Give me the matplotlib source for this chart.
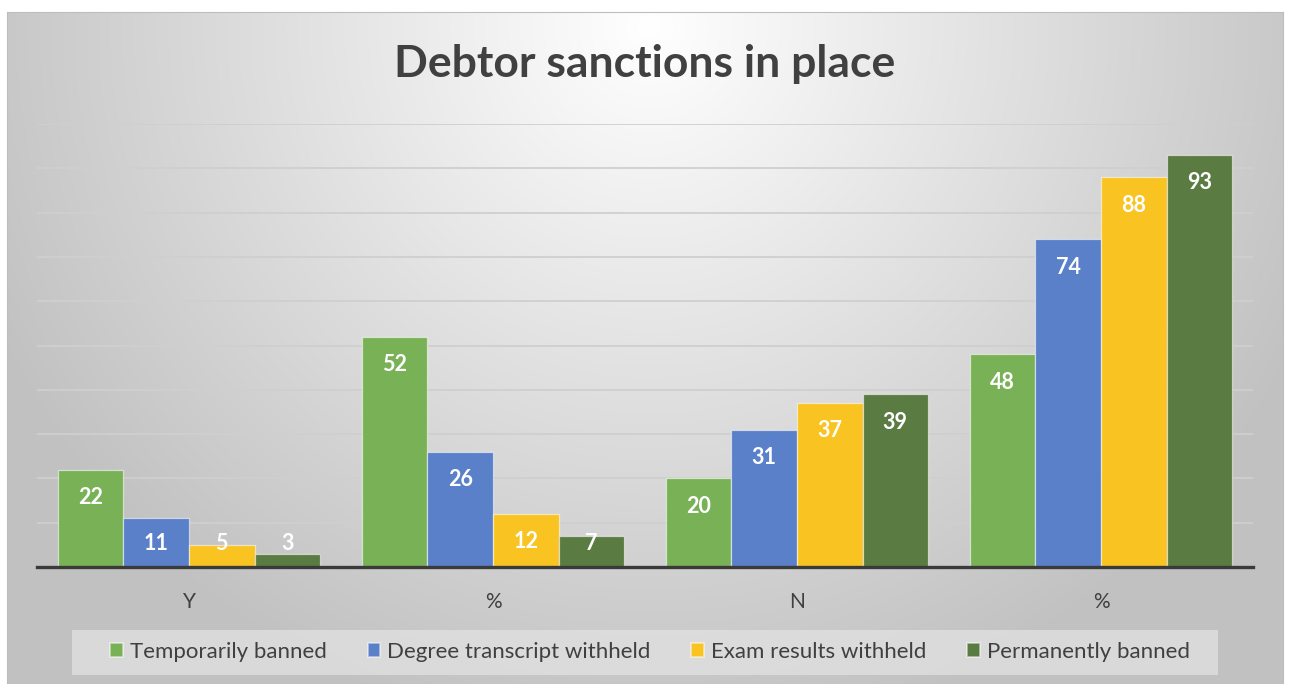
import matplotlib
matplotlib.use("Agg")
import matplotlib.pyplot as plt
import numpy as np
from matplotlib.patches import Rectangle, Patch

# data
groups = ["Y", "%", "N", "%"]
series = ["Temporarily banned", "Degree transcript withheld",
          "Exam results withheld", "Permanently banned"]
temporarily_banned = [22, 52, 20, 48]
transcript_withheld = [11, 26, 31, 74]
exam_withheld = [5, 12, 37, 88]
permanently_banned = [3, 7, 39, 93]

values = [temporarily_banned, transcript_withheld, exam_withheld, permanently_banned]
colors = ["#79b256", "#5a80c9", "#f9c321", "#5a7b42"]

plt.rcParams["font.family"] = ["Lato", "DejaVu Sans"]

W, H = 1293, 684
fig = plt.figure(figsize=(W / 100, H / 100), dpi=100)
fig.patch.set_facecolor("white")

# radial grey background of the chart area
bx0, by0, bx1, by1 = 7, 12, 1283, 684
bg = fig.add_axes([bx0 / W, 1 - by1 / H, (bx1 - bx0) / W, (by1 - by0) / H])
xx, yy = np.meshgrid(np.linspace(bx0, bx1, 400), np.linspace(by0, by1, 240))
d = np.sqrt(((xx - 650) / 720) ** 2 + ((yy - 25) / 720) ** 2)
d = np.clip(d, 0, 1)
shade = 1.0 - d * (1.0 - 0.76)
img = np.dstack([shade, shade, shade])
bg.imshow(img, aspect="auto", extent=[0, 1, 0, 1], origin="upper")
bg.set_xlim(0, 1)
bg.set_ylim(0, 1)
bg.set_xticks([])
bg.set_yticks([])
for s in bg.spines.values():
    s.set_color("#bdbdbd")
    s.set_linewidth(0.8)

# main plot axes
ax = fig.add_axes([37 / W, 1 - 567 / H, (1253 - 37) / W, (567 - 124) / H])
ax.set_facecolor("none")
x = np.arange(len(groups))
width = 0.2155
offsets = (np.arange(len(series)) - 1.5) * width

for vals, col, off, name in zip(values, colors, offsets, series):
    bars = ax.bar(x + off, vals, width, color=col, edgecolor=(1, 1, 1, 0.55),
                  linewidth=0.9, label=name, zorder=3)
    for b, v in zip(bars, vals):
        ly = max(v - 6.3, 5.4)
        ax.text(b.get_x() + b.get_width() / 2, ly, str(v), ha="center",
                va="center", color="white", fontsize=15.5, fontweight="bold",
                zorder=4)

ax.set_xlim(-0.5, len(groups) - 0.5)
ax.set_ylim(0, 100)
ax.set_yticks(np.arange(10, 101, 10))
ax.yaxis.grid(True, color="#cfcfcf", linewidth=1.3, zorder=0)
ax.tick_params(axis="y", left=False, labelleft=False)
ax.set_xticks(x)
ax.set_xticklabels(groups, fontsize=15, color="#404040")
ax.tick_params(axis="x", length=0, pad=18)
for side in ["top", "right", "left"]:
    ax.spines[side].set_visible(False)
ax.spines["bottom"].set_color("#3a3a3a")
ax.spines["bottom"].set_linewidth(2.4)
ax.spines["bottom"].set_zorder(5)

fig.text(645 / W, 1 - 64 / H, "Debtor sanctions in place", ha="center",
         va="center", fontsize=32, fontweight="bold", color="#404040")

# legend box
fig.patches.append(Rectangle((72 / W, 1 - 675 / H), (1218 - 72) / W, 45 / H,
                             transform=fig.transFigure, facecolor="#e2e2e2",
                             alpha=0.75, edgecolor="none", zorder=1))
handles = [Patch(facecolor=c, edgecolor=(1, 1, 1, 0.55), linewidth=1.2)
           for c in colors]
fig.legend(handles, series, loc="center", bbox_to_anchor=(650 / W, 1 - 652 / H),
           ncol=4, frameon=False, fontsize=16, handlelength=0.57,
           handleheight=0.57, handletextpad=0.3, columnspacing=1.85,
           labelcolor="#404040")

fig.savefig("out.png", dpi=100)
